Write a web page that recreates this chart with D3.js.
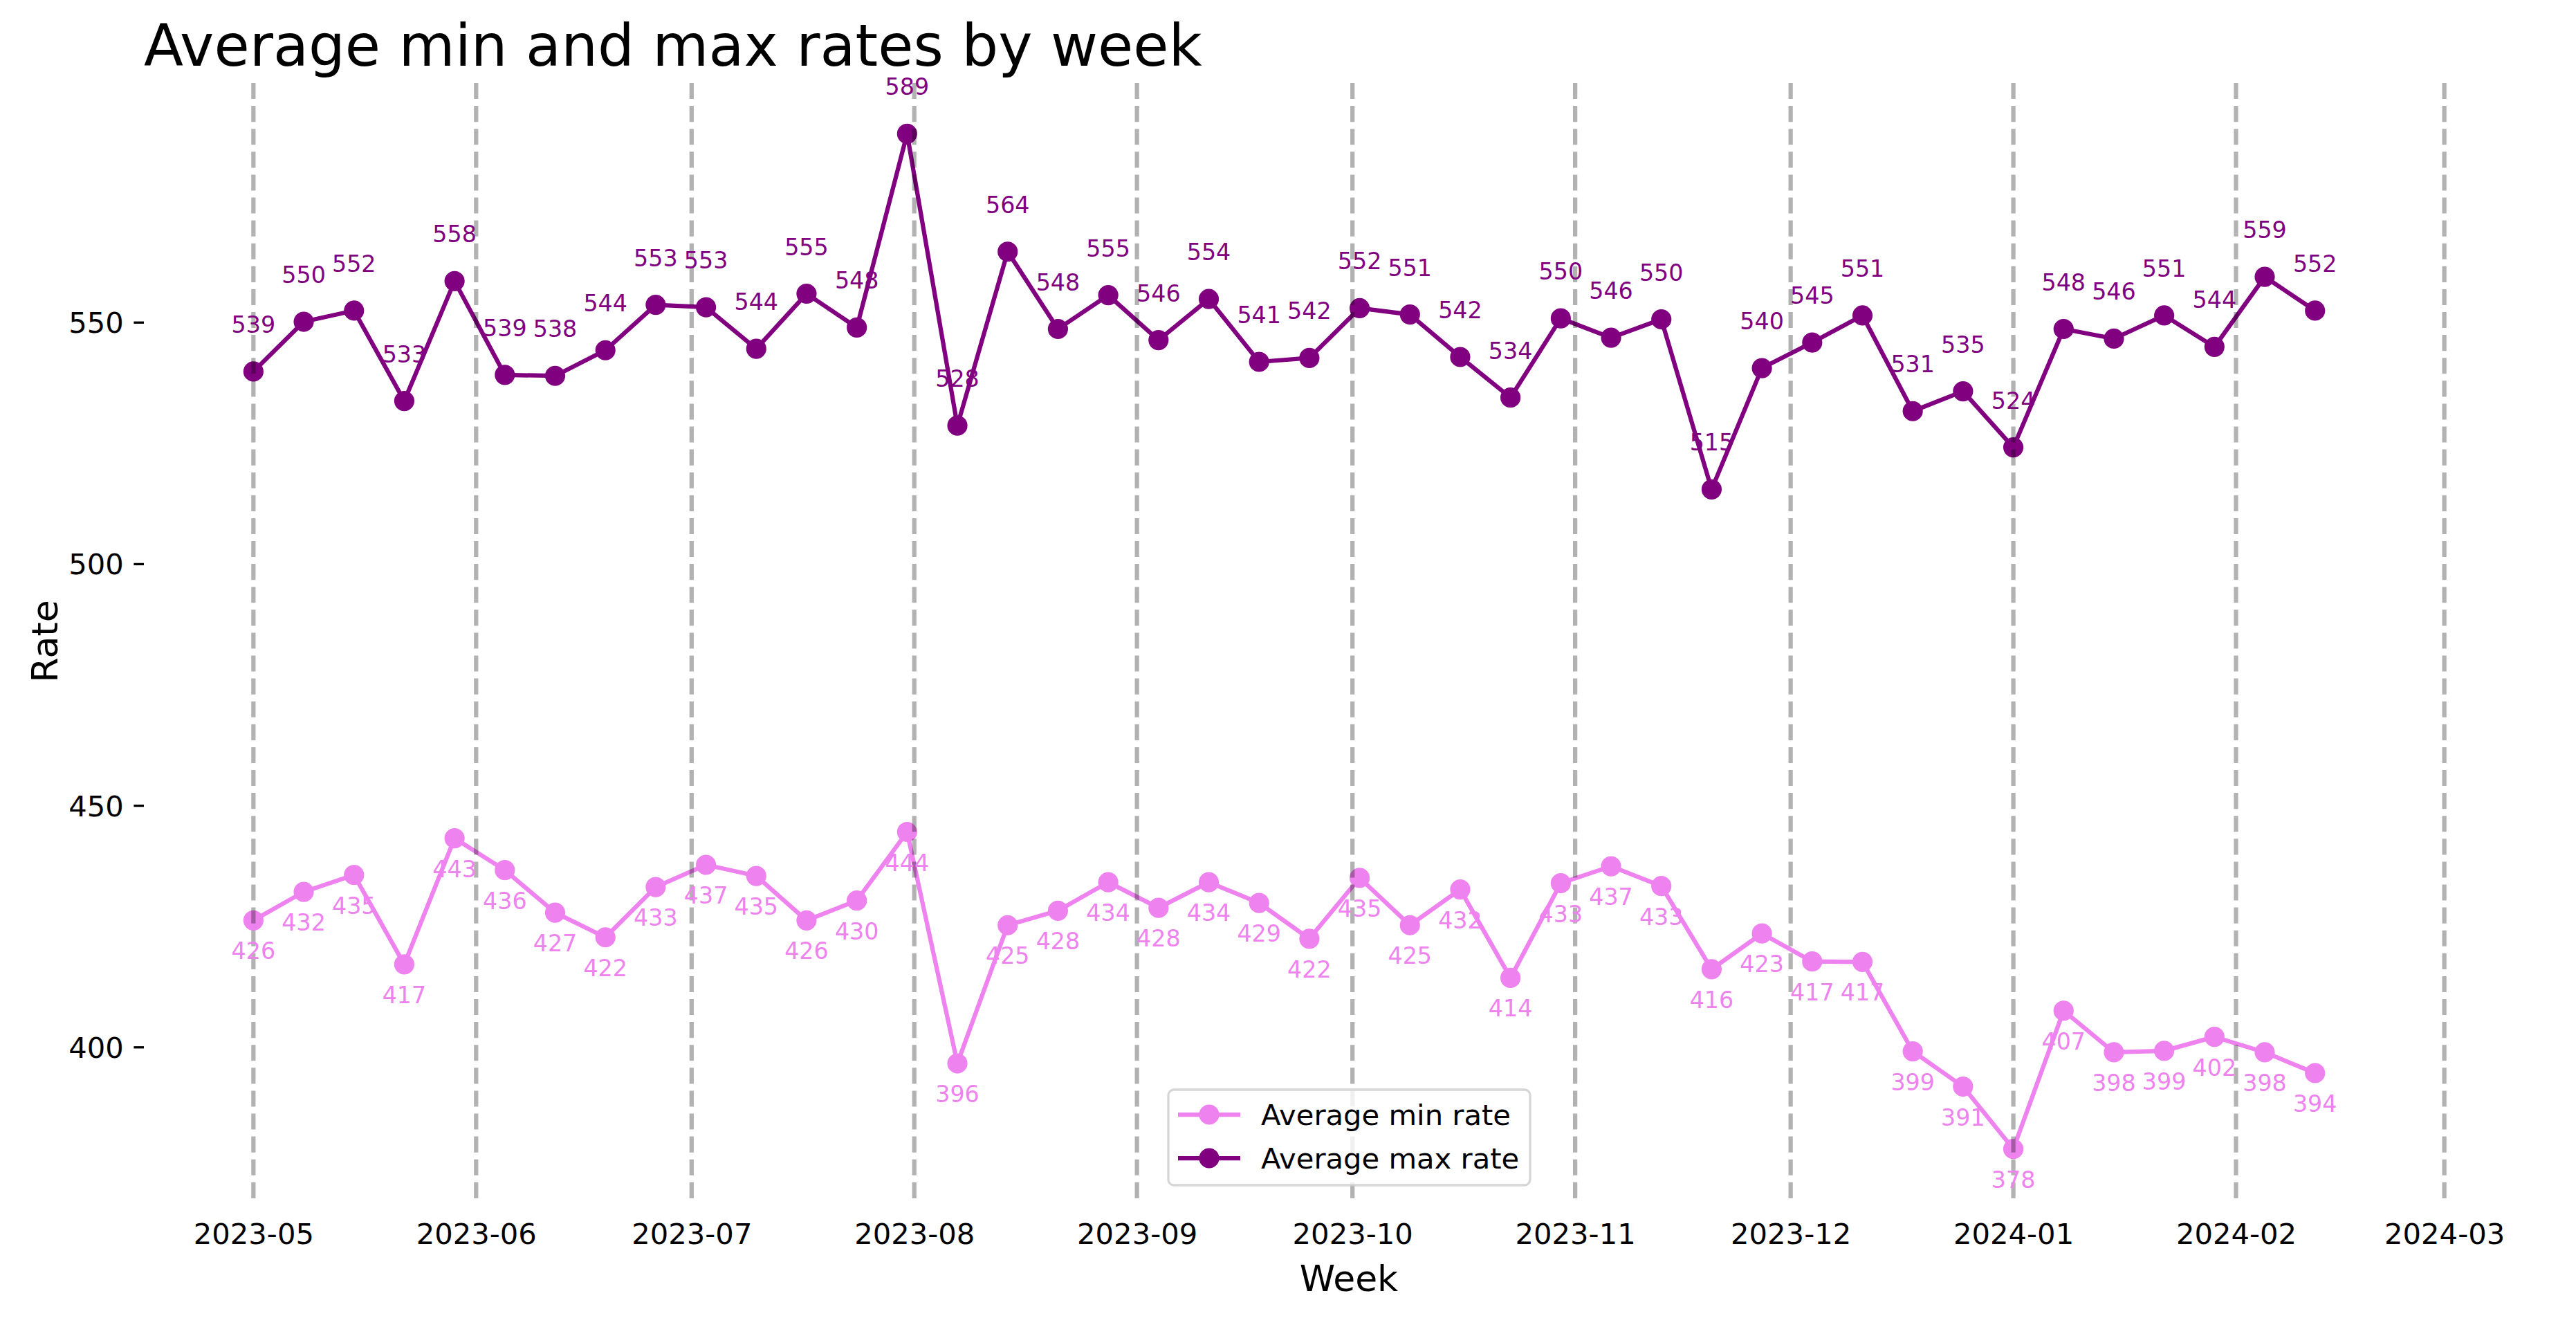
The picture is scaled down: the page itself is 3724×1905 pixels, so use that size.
<!DOCTYPE html>
<html>
<head>
<meta charset="utf-8">
<script src="https://cdn.jsdelivr.net/npm/d3@7"></script>
<style>
  html, body { margin: 0; padding: 0; background: #ffffff; }
  svg { display: block; font-family: "DejaVu Sans", sans-serif; }
</style>
</head>
<body>
<svg id="chart" width="3724" height="1905"></svg>
<script>
// ---------- DATA ----------
const weeks = [
  "2023-05-01","2023-05-08","2023-05-15","2023-05-22","2023-05-29","2023-06-05","2023-06-12",
  "2023-06-19","2023-06-26","2023-07-03","2023-07-10","2023-07-17","2023-07-24","2023-07-31",
  "2023-08-07","2023-08-14","2023-08-21","2023-08-28","2023-09-04","2023-09-11","2023-09-18",
  "2023-09-25","2023-10-02","2023-10-09","2023-10-16","2023-10-23","2023-10-30","2023-11-06",
  "2023-11-13","2023-11-20","2023-11-27","2023-12-04","2023-12-11","2023-12-18","2023-12-25",
  "2024-01-01","2024-01-08","2024-01-15","2024-01-22","2024-01-29","2024-02-05","2024-02-12"
];
const minRates = [
  426.2, 432.1, 435.6, 417.1, 443.2, 436.6, 427.8, 422.7, 433.1, 437.7, 435.4, 426.2, 430.3, 444.5,
  396.6, 425.2, 428.2, 434.1, 428.8, 434.1, 429.8, 422.4, 435.0, 425.2, 432.6, 414.3, 433.9, 437.4,
  433.3, 416.1, 423.5, 417.7, 417.6, 399.1, 391.8, 378.9, 407.5, 398.9, 399.2, 402.1, 398.9, 394.6
];
const maxRates = [
  539.8, 550.1, 552.4, 533.7, 558.5, 539.1, 538.9, 544.2, 553.6, 553.1, 544.5, 555.9, 548.9, 589.0,
  528.6, 564.6, 548.6, 555.6, 546.3, 554.8, 541.8, 542.6, 552.9, 551.6, 542.8, 534.4, 550.8, 546.8,
  550.6, 515.4, 540.5, 545.8, 551.4, 531.6, 535.7, 524.1, 548.6, 546.6, 551.4, 544.9, 559.4, 552.4
];
const monthTicks = [
  "2023-05","2023-06","2023-07","2023-08","2023-09","2023-10",
  "2023-11","2023-12","2024-01","2024-02","2024-03"
];
const yTicks = [400, 450, 500, 550];
const seriesNames = ["Average min rate", "Average max rate"];
const seriesColors = ["#ee82ee", "#800080"];

// ---------- LAYOUT ----------
const W = 3724, H = 1905;
const padL = 208, padR = 3692, padT = 120, padB = 1734;
const fs = 41.7;          // 10pt at 300dpi
const lw = 6.25;          // 1.5pt

const parse = d3.utcParse("%Y-%m-%d");
const parseM = d3.utcParse("%Y-%m");
const dates = weeks.map(parse);
const monthDates = monthTicks.map(parseM);

const xMin = d3.min([...dates, ...monthDates]);
const xMax = d3.max([...dates, ...monthDates]);
const xPad = (xMax - xMin) * 0.05;
const x = d3.scaleUtc()
  .domain([new Date(+xMin - xPad), new Date(+xMax + xPad)])
  .range([padL, padR]);

const allVals = [...minRates, ...maxRates];
const yLo = d3.min(allVals), yHi = d3.max(allVals);
const yPad = (yHi - yLo) * 0.05;
const y = d3.scaleLinear()
  .domain([yLo - yPad, yHi + yPad])
  .range([padB, padT]);

const svg = d3.select("#chart");
svg.append("rect").attr("width", W).attr("height", H).attr("fill", "#ffffff");

// ---------- TITLE ----------
svg.append("text")
  .attr("x", padL).attr("y", 95)
  .attr("font-size", 83.3)
  .attr("fill", "#000")
  .text("Average min and max rates by week");

// ---------- AXES ----------
const xAxis = d3.axisBottom(x)
  .tickValues(monthDates)
  .tickFormat(d3.utcFormat("%Y-%m"))
  .tickSize(0)
  .tickPadding(29);
const gx = svg.append("g").attr("transform", `translate(0,${padB})`).call(xAxis);
gx.select(".domain").remove();
gx.selectAll("text")
  .attr("font-size", fs)
  .attr("font-family", "DejaVu Sans")
  .attr("fill", "#000")
  .attr("dy", null)
  .attr("y", 64);

const yAxis = d3.axisLeft(y)
  .tickValues(yTicks)
  .tickSize(14.6)
  .tickPadding(14.6);
const gy = svg.append("g").attr("transform", `translate(${padL},0)`).call(yAxis);
gy.select(".domain").remove();
gy.selectAll("line").attr("stroke", "#000").attr("stroke-width", 3.3);
gy.selectAll("text")
  .attr("font-size", fs)
  .attr("font-family", "DejaVu Sans")
  .attr("fill", "#000")
  .attr("dy", "0.36em");

svg.append("text")
  .attr("x", (padL + padR) / 2).attr("y", 1866)
  .attr("text-anchor", "middle")
  .attr("font-size", 52)
  .text("Week");
svg.append("text")
  .attr("transform", `translate(83,${(padT + padB) / 2}) rotate(-90)`)
  .attr("text-anchor", "middle")
  .attr("font-size", 52)
  .text("Rate");

// ---------- SERIES ----------
const series = [
  { name: seriesNames[0], color: seriesColors[0], vals: minRates, labelDy: 56 },
  { name: seriesNames[1], color: seriesColors[1], vals: maxRates, labelDy: -56 }
];

const line = d3.line().x(d => x(d[0])).y(d => y(d[1]));

series.forEach(s => {
  const pts = dates.map((d, i) => [d, s.vals[i]]);
  const g = svg.append("g");
  g.append("path")
    .attr("d", line(pts))
    .attr("fill", "none")
    .attr("stroke", s.color)
    .attr("stroke-width", lw)
    .attr("stroke-linejoin", "round");
  g.selectAll("circle").data(pts).join("circle")
    .attr("cx", d => x(d[0]))
    .attr("cy", d => y(d[1]))
    .attr("r", 12.5)
    .attr("fill", s.color)
    .attr("stroke", s.color)
    .attr("stroke-width", 4.2);
});

// ---------- MONTH DASHED LINES ----------
svg.append("g").selectAll("line").data(monthDates).join("line")
  .attr("x1", d => x(d)).attr("x2", d => x(d))
  .attr("y1", padT).attr("y2", padB)
  .attr("stroke", "#000")
  .attr("stroke-opacity", 0.3)
  .attr("stroke-width", lw)
  .attr("stroke-dasharray", "23.1,10");

// ---------- VALUE LABELS ----------
series.forEach(s => {
  svg.append("g").selectAll("text").data(dates.map((d, i) => [d, s.vals[i]])).join("text")
    .attr("x", d => x(d[0]))
    .attr("y", d => y(d[1]) + s.labelDy)
    .attr("text-anchor", "middle")
    .attr("font-size", 33.3)
    .attr("fill", s.color)
    .text(d => Math.floor(d[1]));
});

// ---------- LEGEND ----------
const lg = svg.append("g");
lg.append("rect")
  .attr("x", 1689).attr("y", 1575)
  .attr("width", 2212 - 1689).attr("height", 1713 - 1575)
  .attr("rx", 8).attr("ry", 8)
  .attr("fill", "#ffffff").attr("fill-opacity", 0.8)
  .attr("stroke", "#cccccc").attr("stroke-opacity", 0.8)
  .attr("stroke-width", 3.3);
const rowsY = [1611, 1674];
series.forEach((s, i) => {
  const ry = rowsY[i];
  lg.append("line")
    .attr("x1", 1703).attr("x2", 1793).attr("y1", ry).attr("y2", ry)
    .attr("stroke", s.color).attr("stroke-width", lw);
  lg.append("circle")
    .attr("cx", 1748).attr("cy", ry).attr("r", 12.5)
    .attr("fill", s.color).attr("stroke", s.color).attr("stroke-width", 4.2);
  lg.append("text")
    .attr("x", 1823).attr("y", ry + 15)
    .attr("font-size", fs)
    .attr("fill", "#000")
    .text(s.name);
});
</script>
</body>
</html>
